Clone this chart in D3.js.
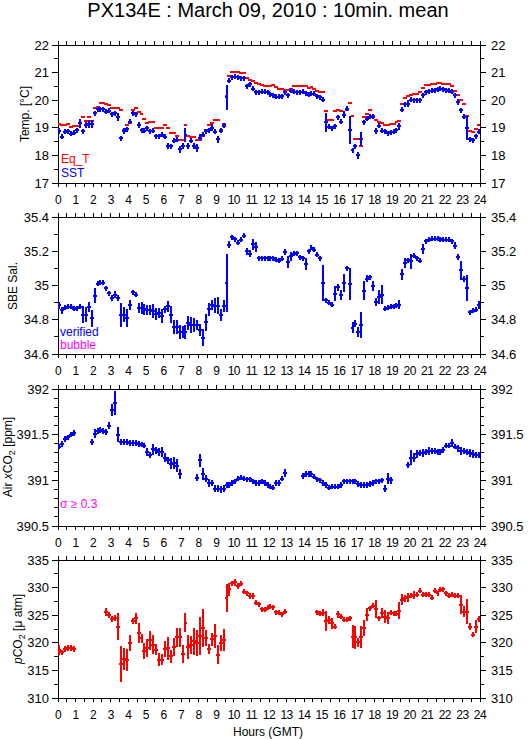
<!DOCTYPE html>
<html>
<head>
<meta charset="utf-8">
<script src="https://cdn.jsdelivr.net/npm/d3@7"></script>
<style>
  body { margin: 0; background: #fff; }
  text { font-family: "Liberation Sans", Arial, Helvetica, sans-serif; fill: #000; }
</style>
</head>
<body>
<svg id="chart" width="529" height="739"></svg>
<script>
// 10-minute means, slot i covers hour i/6 .. (i+1)/6
const slot = 1 / 6;
const hourLabels = [0,1,2,3,4,5,6,7,8,9,10,11,12,13,14,15,16,17,18,19,20,21,22,23,24];

const tempTicks = [17, 18, 19, 20, 21, 22];
const salTicks = [34.6, 34.8, 35, 35.2, 35.4];
const airTicks = [390.5, 391, 391.5, 392];
const pco2Ticks = [310, 315, 320, 325, 330, 335];

// equilibrator temperature (red dashes)
const eqT = [
  19.13, 19.1, 19.09, 19.13, 19.04, 19.07,
  19.05, 19.16, 19.38, 19.25, 19.38, 19.25,
  19.7, 19.77, 19.91, 19.9, 19.86, 19.81,
  19.73, 19.7, 19.73, 19.64, 18.92, 19.1,
  19.16, 19.64, 19.73, 19.58, 19.49, 19.31,
  19.19, 19.2, 19.21, 18.98, 18.98, 18.98,
  19.09, 19.0, 18.82, 18.8, 18.7, 18.56,
  18.56, 19.1, 18.7, 18.68, 18.65, 18.56,
  18.56, 18.7, 18.92, 19.1, 19.16, 19.28,
  19.28, 18.92, 19.12, 20.15, 20.88, 21.03,
  21.03, 21.03, 21.0, 21.0, 20.8, 20.75,
  20.7, 20.63, 20.58, 20.55, 20.52, 20.52,
  20.53, 20.55, 20.47, 20.42, 20.4, 20.38,
  20.36, 20.42, 20.5, 20.52, 20.53, 20.53,
  20.5, 20.43, 20.47, 20.4, 20.35, 20.29,
  20.28, 19.6, 19.27, 19.28, 19.6, 19.65,
  19.62, 19.48, 19.65, 19.91, 19.44, 18.6,
  18.58, 18.34, 19.4, 19.5, 19.63, 19.44,
  19.3, 19.2, 19.16, 19.1, 19.1, 19.13,
  19.15, 19.2, 19.25, 19.85, 20.09, 20.14,
  20.2, 20.24, 20.24, 20.3, 20.45, 20.55,
  20.55, 20.58, 20.6, 20.63, 20.63, 20.6,
  20.58, 20.58, 20.5, 20.35, 20.2, 20.02,
  19.85, 19.44, 18.87, 18.83, 18.95, 19.11
];

// sea surface temperature (blue crosses)
const sst = [
  18.88, 18.68, 18.85, 18.88, 18.78, 18.82,
  18.92, 19.16, 18.88, 19.1, 19.14, 19.14,
  19.52, 19.67, 19.68, 19.68, 19.58, 19.62,
  19.49, 19.52, 19.4, 18.62, 18.88, 18.94,
  19.22, 19.52, 19.49, 19.1, 18.92, 18.9,
  18.98, 18.88, 18.9, 18.7, 18.7, 18.74,
  18.68, 18.34, 18.34, 18.53, 18.56, 18.22,
  18.34, 18.75, 18.34, 18.53, 18.34, 18.26,
  18.64, 18.75, 18.88, 18.92, 19.0, 18.86,
  18.58, 18.9, 19.08, 20.1, 20.7, 20.83,
  20.85, 20.83, 20.8, 20.8, 20.51, 20.57,
  20.42, 20.28, 20.28, 20.3, 20.3, 20.28,
  20.21, 20.18, 20.12, 20.12, 20.15, 20.28,
  20.18, 20.34, 20.3, 20.29, 20.29, 20.3,
  20.25, 20.19, 20.24, 20.24, 20.14, 20.1,
  20.02, 19.2, 19.04, 18.99, 19.06, 19.38,
  19.22, 19.48, 19.69, 18.92, 18.18, 18.34,
  18.0, 18.58, 19.2, 19.32, 19.4, 19.4,
  18.89, 19.07, 18.89, 18.87, 18.8, 18.83,
  18.85, 18.91, 19.05, 19.65, 19.85, 19.87,
  20.02, 20.0, 20.0, 20.0, 20.18, 20.28,
  20.32, 20.34, 20.36, 20.4, 20.42, 20.4,
  20.36, 20.34, 20.3, 20.18, 19.93, 19.63,
  19.4, 19.0, 18.58, 18.55, 18.7, 18.85
];
const sstErr = [
  .12, .08, .03, .03, .04, .03,
  .05, .15, .05, .12, .15, .15,
  .05, .03, .03, .03, .03, .04,
  .04, .06, .15, .05, .1, .06,
  .1, .05, .04, .12, .04, .05,
  .06, .08, .05, .08, .05, .05,
  .06, .1, .06, .08, .06, .12,
  .1, .25, .1, .08, .1, .15,
  .12, .1, .06, .05, .12, .06,
  .12, .05, .05, .45, .05, .03,
  .02, .02, .02, .02, .03, .02,
  .03, .02, .02, .02, .02, .02,
  .02, .02, .02, .02, .02, .03,
  .02, .03, .02, .02, .02, .02,
  .02, .02, .02, .02, .03, .04,
  .1, .35, .03, .04, .04, .05,
  .04, .12, .04, .52, .06, .05,
  .12, .25, .08, .05, .05, .05,
  .12, .06, .08, .03, .03, .03,
  .03, .05, .12, .05, .05, .12,
  .04, .03, .03, .03, .02, .02,
  .02, .02, .02, .02, .02, .02,
  .02, .02, .02, .02, .12, .06,
  .05, .43, .04, .03, .04, .05
];

// SBE salinity (blue crosses)
const sal = [
  34.884, 34.855, 34.87, 34.875, 34.876, 34.865,
  34.868, 34.875, 34.83, 34.83, 34.875, 34.808,
  34.94, 35.01, 35.015, 35.015, 34.985, 34.956,
  34.927, 34.946, 34.927, 34.83, 34.83, 34.81,
  34.888, 34.96, 34.945, 34.87, 34.87, 34.86,
  34.855, 34.855, 34.85, 34.835, 34.838, 34.82,
  34.86, 34.878, 34.83, 34.758, 34.758, 34.727,
  34.727, 34.73, 34.78, 34.77, 34.77, 34.768,
  34.74, 34.694, 34.785, 34.86, 34.888, 34.882,
  34.882, 34.83, 34.878, 35.015, 35.238, 35.283,
  35.27, 35.25, 35.267, 35.29, 35.2, 35.186,
  35.24, 35.225, 35.16, 35.16, 35.16, 35.16,
  35.16, 35.158, 35.15, 35.145, 35.155, 35.194,
  35.137, 35.17, 35.186, 35.188, 35.166, 35.16,
  35.126, 35.2, 35.219, 35.21, 35.18, 35.16,
  35.015, 34.913, 34.898, 34.888, 34.952, 34.99,
  34.946, 35.015, 35.1, 35.009, 34.752, 34.777,
  34.728, 34.771, 34.97, 35.04, 35.048, 34.999,
  34.904, 34.933, 34.946, 34.865, 34.869, 34.875,
  34.878, 34.882, 34.888, 35.067, 35.131, 35.147,
  35.141, 35.174, 35.16, 35.145, 35.213, 35.258,
  35.268, 35.272, 35.273, 35.272, 35.27, 35.268,
  35.268, 35.266, 35.258, 35.233, 35.164, 35.089,
  35.038, 34.985, 34.843, 34.853, 34.859, 34.888
];
const salErr = [
  .02, .02, .01, .01, .01, .015,
  .015, .01, .05, .045, .03, .05,
  .045, .01, .01, .01, .015, .01,
  .02, .02, .015, .07, .045, .05,
  .03, .015, .01, .03, .035, .03,
  .03, .03, .04, .035, .03, .04,
  .02, .03, .05, .04, .04, .04,
  .035, .04, .04, .045, .04, .03,
  .035, .05, .05, .04, .03, .045,
  .05, .035, .035, .17, .02, .01,
  .01, .01, .01, .015, .02, .02,
  .03, .03, .01, .005, .005, .005,
  .005, .005, .005, .005, .005, .017,
  .036, .028, .01, .01, .01, .01,
  .034, .015, .01, .01, .01, .01,
  .107, .01, .01, .01, .045, .02,
  .03, .052, .015, .096, .032, .02,
  .03, .076, .056, .02, .01, .03,
  .025, .04, .056, .01, .005, .005,
  .005, .005, .028, .032, .03, .01,
  .044, .01, .01, .01, .03, .01,
  .005, .005, .005, .005, .005, .005,
  .005, .005, .005, .022, .018, .054,
  .02, .078, .01, .01, .01, .024
];

// atmospheric xCO2 in ppm (null = no data)
const airCO2 = [
  391.37, 391.4, 391.45, 391.47, 391.5, 391.52,
  null, null, null, null, null, 391.42,
  391.51, 391.54, 391.55, 391.54, 391.53, 391.6,
  391.77, 391.85, 391.5, 391.42, 391.42, 391.42,
  391.41, 391.41, 391.41, 391.4, 391.39, 391.38,
  391.31, 391.28, 391.34, 391.33, 391.31, 391.31,
  391.25, 391.22, 391.18, 391.19, 391.16, 391.07,
  null, null, null, null, null, 391.03,
  391.22, 391.07, 391.02, 390.97, 390.97, 390.91,
  390.91, 390.9, 390.91, 390.95, 390.95, 390.97,
  390.99, 391.02, 391.03, 391.02, 391.01, 391.01,
  390.99, 390.97, 390.97, 390.99, 390.97, 390.95,
  390.93, 390.92, 390.97, 390.97, 391.02, 391.08,
  null, null, null, null, null, 391.05,
  391.07, 391.07, 391.07, 391.04, 391.01, 391.0,
  390.97, 390.95, 390.92, 390.93, 390.93, 390.93,
  390.95, 390.99, 390.99, 390.99, 390.99, 390.99,
  390.96, 390.95, 390.95, 390.95, 390.96, 390.97,
  390.99, 390.99, 391.0, 390.91, 391.02, 391.0,
  null, null, null, null, null, 391.17,
  391.25, 391.25, 391.29, 391.3, 391.3, 391.31,
  391.32, 391.32, 391.32, 391.31, 391.31, 391.33,
  391.38, 391.38, 391.41, 391.37, 391.35, 391.32,
  391.32, 391.31, 391.3, 391.29, 391.28, 391.28
];
const airErr = [
  .03, .03, .03, .03, .03, .03,
  null, null, null, null, null, .03,
  .05, .03, .03, .03, .03, .04,
  .07, .13, .08, .03, .03, .03,
  .03, .03, .03, .03, .03, .03,
  .04, .03, .06, .04, .04, .05,
  .05, .04, .06, .07, .07, .05,
  null, null, null, null, null, .04,
  .07, .07, .04, .04, .03, .04,
  .04, .04, .04, .03, .03, .03,
  .03, .03, .03, .03, .03, .03,
  .03, .03, .03, .03, .03, .03,
  .03, .03, .03, .03, .03, .04,
  null, null, null, null, null, .03,
  .03, .03, .03, .03, .03, .03,
  .03, .03, .03, .03, .03, .03,
  .03, .03, .03, .03, .03, .03,
  .03, .03, .03, .03, .03, .03,
  .03, .03, .03, .04, .06, .04,
  null, null, null, null, null, .03,
  .08, .05, .04, .03, .04, .03,
  .04, .03, .03, .03, .03, .03,
  .03, .03, .04, .03, .04, .04,
  .03, .03, .04, .04, .03, .03
];

// seawater pCO2 in uatm (null = no data)
const pco2 = [
  318.73, 318.25, 318.86, 319.04, 319.04, 318.86,
  null, null, null, null, null, null,
  null, null, null, null, 325.54, 325.06,
  324.28, 324.46, 322.95, 316.14, 317.05, 316.93,
  319.94, 323.98, 324.46, 321.75, 320.84, 318.55,
  319.04, 320.42, 319.64, 318.73, 316.93, 316.93,
  318.86, 319.04, 317.53, 319.22, 321.02, 321.02,
  318.01, 323.67, 319.22, 319.64, 320.24, 319.94,
  321.27, 322.65, 320.84, 318.86, 320.66, 321.27,
  317.83, 319.94, 320.54, 328.07, 329.7, 330.78,
  330.96, 330.3, 330.66, 329.28, 328.98, 328.49,
  328.49, 327.29, 326.99, 326.08, 325.96, 326.39,
  326.57, 326.45, 325.54, 325.48, 325.18, 325.66,
  null, null, null, null, null, null,
  null, null, null, null, 325.54, 325.24,
  325.48, 323.98, 324.16, 323.55, 322.95, 325.18,
  324.76, 324.16, 324.16, 324.46, 321.14, 321.02,
  320.06, 321.02, 322.65, 325.06, 326.27, 326.69,
  326.08, 324.46, 325.36, 324.76, 324.46, 325.48,
  325.36, 325.24, 325.84, 327.77, 328.07, 328.25,
  328.55, 328.67, 328.67, 329.4, 328.67, 328.8,
  328.67, 328.19, 329.4, 328.98, 329.58, 329.7,
  328.98, 328.49, 328.67, 328.49, 328.49, 326.87,
  325.66, 325.66, 322.95, 321.45, 322.95, 324.28
];
const pco2Err = [
  .9, .5, .6, .5, .5, .6,
  null, null, null, null, null, null,
  null, null, null, null, .75, .6,
  .6, .5, 2.5, 3.3, 2.0, 2.0,
  1.5, .5, 1.0, 1.8, .8, 1.5,
  1.7, 1.8, 1.7, 1.0, 1.2, 1.0,
  1.4, 2.1, 1.2, 1.6, 1.7, 1.7,
  1.6, 1.8, 2.2, 1.6, 2.4, 2.4,
  3.4, 3.4, 1.4, .9, 1.2, 2.2,
  1.7, 1.5, 2.0, 2.5, 1.2, .5,
  .6, .5, .3, .5, .3, .5,
  .5, .5, .3, .2, .2, .2,
  .2, .2, .2, .2, .2, .3,
  null, null, null, null, null, null,
  null, null, null, null, .2, .3,
  .7, 1.8, .7, 1.0, .5, .6,
  .3, .3, .3, .3, 2.1, 2.1,
  .8, 2.0, 1.4, 1.2, .4, .3,
  1.6, .3, .9, 1.1, 1.1, .3,
  .3, .3, 1.5, 1.0, .6, .8,
  .4, .7, .3, .3, .3, .3,
  .3, .3, .3, .3, .3, .3,
  .3, .3, .3, .3, .3, 1.7,
  1.0, 2.2, .7, .4, 1.2, .6
];

const svg = d3.select("#chart");
const x = d3.scaleLinear().domain([0, 24]).range([58, 480]);

const panels = [
  { top: 45,  bottom: 183, domain: [17, 22],       ticks: tempTicks, minor: 0.5 },
  { top: 217, bottom: 354, domain: [34.6, 35.4],   ticks: salTicks,  minor: 0.1 },
  { top: 389, bottom: 526, domain: [390.5, 392],   ticks: airTicks,  minor: 0.1 },
  { top: 560, bottom: 698, domain: [310, 335],     ticks: pco2Ticks, minor: 2.5 }
];

svg.append("rect").attr("width", 529).attr("height", 739).attr("fill", "#fff");

svg.append("text")
  .attr("x", 268).attr("y", 17)
  .attr("text-anchor", "middle")
  .style("font-size", "20px")
  .text("PX134E : March 09, 2010 : 10min. mean");

const halfHours = d3.range(0, 24.01, 0.5);

panels.forEach(function(p, k) {
  const y = d3.scaleLinear().domain(p.domain).range([p.bottom, p.top]);
  p.y = y;
  const g = svg.append("g");

  g.append("clipPath").attr("id", "clip" + k)
    .append("rect").attr("x", 58).attr("y", p.top).attr("width", 422).attr("height", p.bottom - p.top);

  // frame
  g.append("rect")
    .attr("x", 58).attr("y", p.top).attr("width", 422).attr("height", p.bottom - p.top)
    .attr("fill", "none").attr("stroke", "#000").attr("stroke-width", 1)
    .attr("shape-rendering", "crispEdges");

  // x ticks, outward, top and bottom
  const tk = g.append("g").attr("stroke", "#000").attr("shape-rendering", "crispEdges");
  halfHours.forEach(function(h) {
    tk.append("line").attr("x1", x(h)).attr("x2", x(h)).attr("y1", p.bottom).attr("y2", p.bottom + 4);
    tk.append("line").attr("x1", x(h)).attr("x2", x(h)).attr("y1", p.top).attr("y2", p.top - 4);
  });
  // y ticks, minor then major
  const minors = d3.range(p.domain[0], p.domain[1] + p.minor / 2, p.minor);
  minors.forEach(function(v) {
    tk.append("line").attr("x1", 58).attr("x2", 54).attr("y1", y(v)).attr("y2", y(v));
    tk.append("line").attr("x1", 480).attr("x2", 484).attr("y1", y(v)).attr("y2", y(v));
  });
  p.ticks.forEach(function(v) {
    tk.append("line").attr("x1", 58).attr("x2", 52).attr("y1", y(v)).attr("y2", y(v));
    tk.append("line").attr("x1", 480).attr("x2", 486).attr("y1", y(v)).attr("y2", y(v));
  });

  // y tick labels on both sides
  p.ticks.forEach(function(v) {
    g.append("text").attr("x", 49).attr("y", y(v)).attr("dy", "0.35em")
      .attr("text-anchor", "end").style("font-size", "13px").text(d3.format("~g")(v));
    g.append("text").attr("x", 491).attr("y", y(v)).attr("dy", "0.35em")
      .attr("text-anchor", "start").style("font-size", "13px").text(d3.format("~g")(v));
  });

  // hour labels below each panel
  hourLabels.forEach(function(h) {
    g.append("text").attr("x", x(h)).attr("y", p.bottom + 21)
      .attr("text-anchor", "middle").style("font-size", "12px")
      .style("letter-spacing", "-0.5px").text(h);
  });
});

// marker: horizontal bar over the 10-min slot plus vertical error bar
function crosses(panel, k, vals, errs, color) {
  const y = panel.y;
  const g = svg.append("g").attr("clip-path", "url(#clip" + k + ")")
    .attr("stroke", color).attr("stroke-width", 2).attr("shape-rendering", "crispEdges");
  const pts = vals.map(function(v, i) { return { i: i, v: v, e: errs ? errs[i] : null }; })
    .filter(function(d) { return d.v != null; });

  g.selectAll("line.h").data(pts).enter().append("line")
    .attr("class", "h")
    .attr("x1", function(d) { return x(d.i * slot) - 0.5; })
    .attr("x2", function(d) { return x((d.i + 1) * slot) + 0.5; })
    .attr("y1", function(d) { return y(d.v); })
    .attr("y2", function(d) { return y(d.v); });

  if (!errs) return;
  g.selectAll("line.v").data(pts).enter().append("line")
    .attr("class", "v")
    .attr("x1", function(d) { return x((d.i + 0.5) * slot); })
    .attr("x2", function(d) { return x((d.i + 0.5) * slot); })
    .attr("y1", function(d) { return Math.min(y(d.v + d.e), y(d.v) - 2.5); })
    .attr("y2", function(d) { return Math.max(y(d.v - d.e), y(d.v) + 2.5); });
}

crosses(panels[0], 0, eqT, null, "#ff0000");
crosses(panels[0], 0, sst, sstErr, "#0000ff");
crosses(panels[1], 1, sal, salErr, "#0000ff");
crosses(panels[2], 2, airCO2, airErr, "#0000ff");
crosses(panels[3], 3, pco2, pco2Err, "#ff0000");

// legends inside panels
function label(txt, xx, yy, color) {
  svg.append("text").attr("x", xx).attr("y", yy).style("font-size", "12px")
    .style("fill", color).text(txt);
}
label("Eq_T", 61, 163, "#ff0000");
label("SST", 61, 177, "#0000ff");
label("verified", 60, 336, "#0000ff");
label("bubble", 60, 349, "#ff00ff");
label("\u03c3 \u2265 0.3", 60, 508, "#ff00ff");

// axis titles
function ytitle(xx, yy) {
  return svg.append("text")
    .attr("transform", "translate(" + xx + "," + yy + ") rotate(-90)")
    .attr("text-anchor", "middle").attr("dy", "0.35em")
    .style("font-size", "12px");
}
ytitle(25, 114).text("Temp. [\u00b0C]");
ytitle(13, 286).text("SBE Sal.");
const air = ytitle(8, 457);
air.append("tspan").text("Air ");
air.append("tspan").style("font-style", "italic").text("x");
air.append("tspan").text("CO");
air.append("tspan").attr("dy", "3").style("font-size", "9px").text("2");
air.append("tspan").attr("dy", "-3").text(" [ppm]");
const pc = ytitle(18, 629);
pc.append("tspan").style("font-style", "italic").text("p");
pc.append("tspan").text("CO");
pc.append("tspan").attr("dy", "3").style("font-size", "9px").text("2");
pc.append("tspan").attr("dy", "-3").text(" [\u03bc atm]");

svg.append("text").attr("x", 268).attr("y", 736)
  .attr("text-anchor", "middle").style("font-size", "12px").text("Hours (GMT)");
</script>
</body>
</html>
